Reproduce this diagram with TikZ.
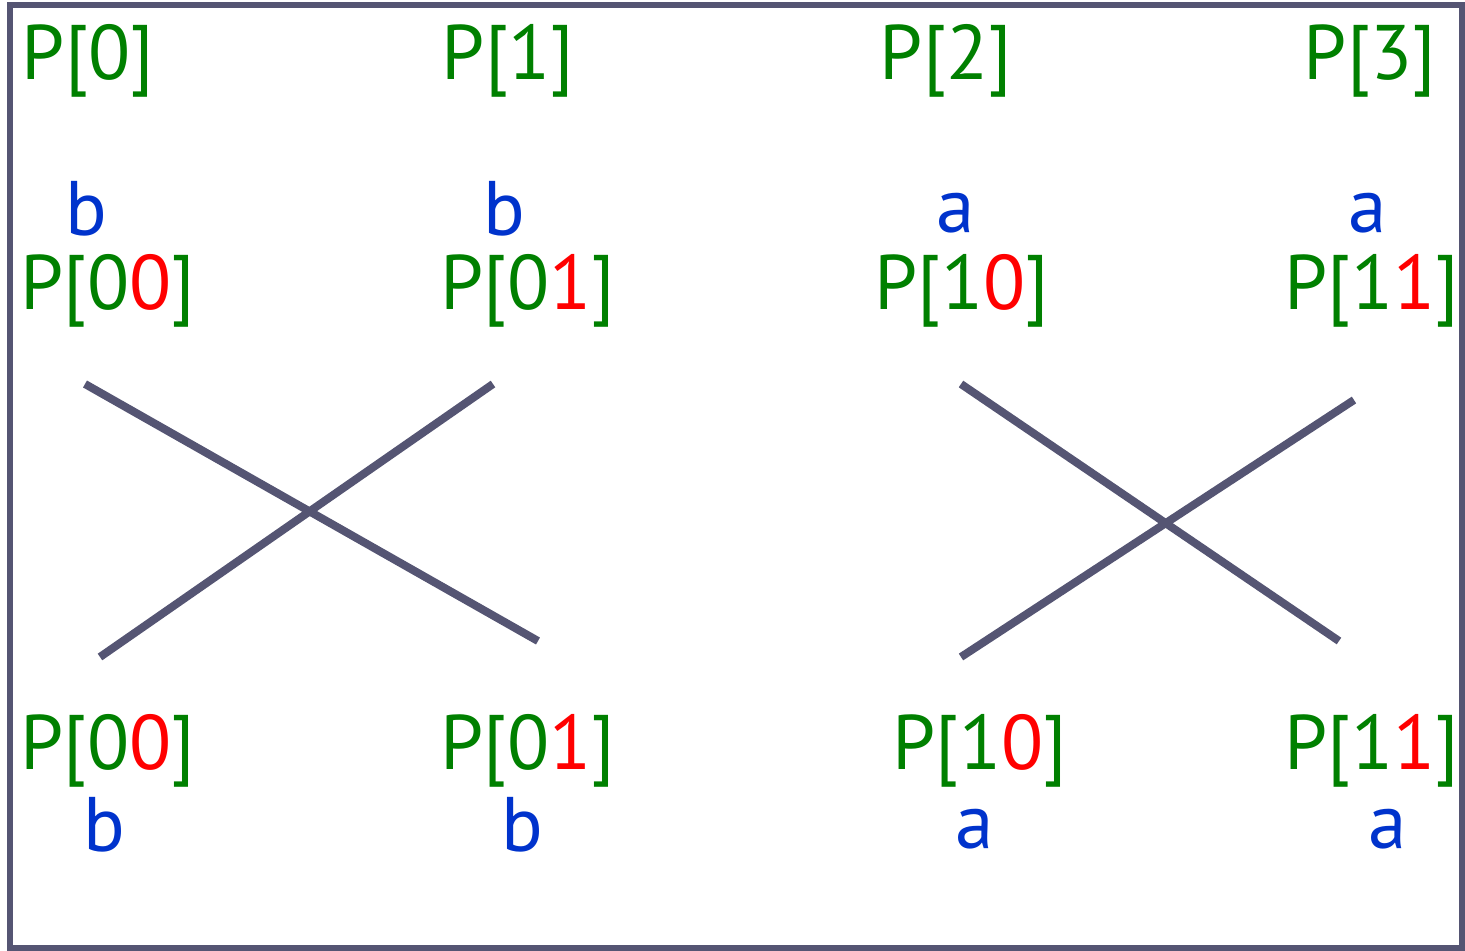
\documentclass[tikz,border=0pt]{standalone}
\usepackage{fontspec}
\setmainfont{PT Sans}
\usepackage{xcolor}
\definecolor{framecol}{RGB}{85,85,115}
\definecolor{namecol}{RGB}{0,128,0}
\definecolor{bitcol}{RGB}{255,0,0}
\definecolor{valcol}{RGB}{0,51,204}
\newcommand{\bit}[1]{\textcolor{bitcol}{#1}}

\begin{document}
\begin{tikzpicture}[x=0.01cm, y=-0.01cm,
    every node/.style={font=\fontsize{22}{26}\selectfont, inner sep=0pt},
    pname/.style={text=namecol},
    pval/.style={text=valcol},
    wire/.style={framecol, line width=0.8mm}]
  \useasboundingbox (0,0) rectangle (1465,951);
  \draw[framecol, line width=0.55mm] (10,5) rectangle (1462,948);
  % top row
  \node[pname] (p0) at (88,61) {P[0]};
  \node[pname] (p1) at (508,61) {P[1]};
  \node[pname] (p2) at (946,61) {P[2]};
  \node[pname] (p3) at (1370,61) {P[3]};
  \node[pval] (v0) at (86,209) {b};
  \node[pval] (v1) at (504,209) {b};
  \node[pval] (v2) at (956,213) {a};
  \node[pval] (v3) at (1368,213) {a};
  \node[pname] (q00) at (108,291) {P[0\bit{0}]};
  \node[pname] (q01) at (528,291) {P[0\bit{1}]};
  \node[pname] (q10) at (962,291) {P[1\bit{0}]};
  \node[pname] (q11) at (1372,291) {P[1\bit{1}]};
  % crossings
  \coordinate (a1) at (85,384);
  \coordinate (a2) at (538,641);
  \coordinate (b1) at (493,384);
  \coordinate (b2) at (100,657);
  \coordinate (c1) at (961,384);
  \coordinate (c2) at (1339,641);
  \coordinate (d1) at (1354,400);
  \coordinate (d2) at (961,657);
  \draw[wire] (a1) -- (a2);
  \draw[wire] (b1) -- (b2);
  \draw[wire] (c1) -- (c2);
  \draw[wire] (d1) -- (d2);
  % bottom row
  \node[pname] (r00) at (108,751) {P[0\bit{0}]};
  \node[pname] (r01) at (528,751) {P[0\bit{1}]};
  \node[pname] (r10) at (980,751) {P[1\bit{0}]};
  \node[pname] (r11) at (1372,751) {P[1\bit{1}]};
  \node[pval] (w00) at (104,825) {b};
  \node[pval] (w01) at (522,825) {b};
  \node[pval] (w10) at (975,829) {a};
  \node[pval] (w11) at (1388,829) {a};
\end{tikzpicture}
\end{document}
